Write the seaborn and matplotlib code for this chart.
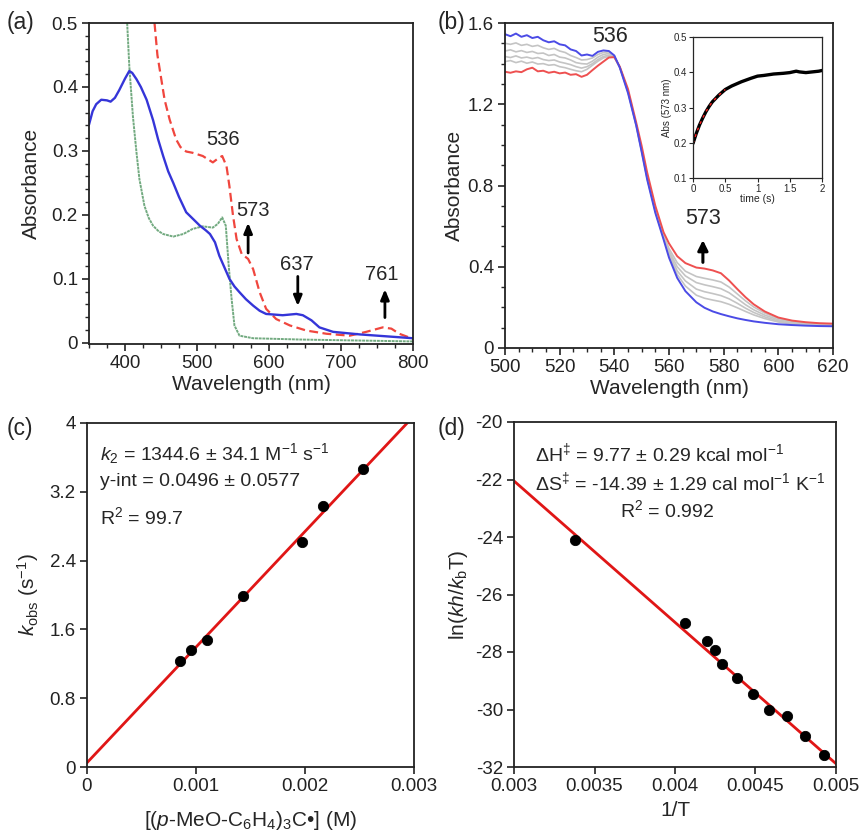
import numpy as np
import pandas as pd
import matplotlib
matplotlib.use("Agg")
import matplotlib.pyplot as plt
from matplotlib.ticker import FuncFormatter, MultipleLocator
import seaborn as sns

sns.set_style("ticks")
plt.rcParams['font.family'] = ['Liberation Sans', 'DejaVu Sans']
plt.rcParams['mathtext.fontset'] = 'custom'
plt.rcParams['mathtext.rm'] = 'Liberation Sans'
plt.rcParams['mathtext.it'] = 'Liberation Sans:italic'
plt.rcParams['mathtext.bf'] = 'Liberation Sans:bold'

# ---------------- Panel (a) data ----------------
wl_blue_a = [350, 355, 360, 367, 375, 380, 386, 392, 400, 406, 410, 416, 422, 430, 439, 446, 453,
             460, 467, 475, 485, 495, 504, 512, 518, 525, 531, 538, 545, 552, 559, 568, 578, 587,
             596, 619, 638, 647, 659, 670, 689, 726, 763, 800]
abs_blue_a = [0.341, 0.362, 0.373, 0.380, 0.379, 0.377, 0.383, 0.395, 0.413, 0.425, 0.422, 0.412,
              0.400, 0.380, 0.348, 0.318, 0.292, 0.268, 0.250, 0.228, 0.204, 0.193, 0.183, 0.176,
              0.170, 0.157, 0.136, 0.118, 0.100, 0.088, 0.079, 0.068, 0.058, 0.050, 0.045, 0.043,
              0.045, 0.043, 0.035, 0.024, 0.017, 0.013, 0.010, 0.007]
wl_red_a = [441, 445, 450, 455, 462, 471, 477, 485, 494, 508, 522, 529, 535, 541, 545, 550, 555,
            562, 571, 578, 587, 596, 610, 629, 652, 680, 712, 735, 758, 770, 781, 800]
abs_red_a = [0.500, 0.450, 0.415, 0.380, 0.349, 0.318, 0.306, 0.299, 0.297, 0.292, 0.282, 0.288,
             0.292, 0.276, 0.245, 0.199, 0.162, 0.139, 0.131, 0.115, 0.079, 0.053, 0.037, 0.027,
             0.019, 0.014, 0.011, 0.017, 0.024, 0.022, 0.014, 0.006]
wl_green_a = [403, 406, 411, 416, 420, 427, 433, 439, 446, 453, 467, 481, 494, 508, 522, 529, 535,
              540, 544, 548, 552, 559, 578, 643, 800]
abs_green_a = [0.500, 0.432, 0.354, 0.297, 0.256, 0.214, 0.195, 0.183, 0.175, 0.170, 0.166, 0.170,
               0.178, 0.182, 0.180, 0.186, 0.196, 0.183, 0.121, 0.069, 0.027, 0.011, 0.007, 0.005,
               0.002]

# ---------------- Panel (b) data ----------------
wl_b = [500, 502, 504, 506, 508, 510, 512, 514, 516, 518, 520, 522, 524, 526, 528, 530, 532, 534,
        536, 538, 540, 542, 545, 548, 550, 552, 555, 558, 560, 563, 566, 570, 573, 576, 579, 582,
        585, 588, 591, 595, 600, 605, 610, 615, 620]
blue_b = [1.545, 1.535, 1.548, 1.532, 1.540, 1.526, 1.532, 1.515, 1.505, 1.510, 1.495, 1.490, 1.470,
          1.462, 1.440, 1.445, 1.438, 1.458, 1.465, 1.462, 1.440, 1.380, 1.255, 1.095, 0.965, 0.830,
          0.665, 0.535, 0.445, 0.345, 0.280, 0.225, 0.198, 0.180, 0.167, 0.156, 0.146, 0.138, 0.131,
          0.124, 0.117, 0.113, 0.110, 0.108, 0.107]
gray1_b = [1.500, 1.495, 1.502, 1.490, 1.495, 1.485, 1.490, 1.478, 1.470, 1.475, 1.462, 1.455, 1.440,
           1.430, 1.418, 1.420, 1.428, 1.445, 1.455, 1.458, 1.438, 1.382, 1.262, 1.100, 0.975, 0.845,
           0.685, 0.555, 0.490, 0.420, 0.378, 0.352, 0.343, 0.335, 0.325, 0.300, 0.266, 0.232, 0.202,
           0.172, 0.145, 0.131, 0.124, 0.120, 0.118]
gray2_b = [1.462, 1.468, 1.458, 1.464, 1.455, 1.460, 1.450, 1.452, 1.440, 1.445, 1.432, 1.428, 1.418,
           1.405, 1.400, 1.398, 1.412, 1.432, 1.445, 1.450, 1.436, 1.383, 1.265, 1.100, 0.972, 0.842,
           0.680, 0.550, 0.478, 0.400, 0.355, 0.322, 0.311, 0.302, 0.292, 0.272, 0.243, 0.213, 0.188,
           0.162, 0.139, 0.127, 0.121, 0.117, 0.115]
gray3_b = [1.435, 1.430, 1.438, 1.428, 1.432, 1.425, 1.430, 1.420, 1.415, 1.418, 1.408, 1.402, 1.395,
           1.385, 1.378, 1.385, 1.400, 1.420, 1.435, 1.442, 1.434, 1.383, 1.262, 1.098, 0.970, 0.838,
           0.675, 0.545, 0.468, 0.380, 0.330, 0.290, 0.277, 0.268, 0.258, 0.242, 0.220, 0.196, 0.175,
           0.153, 0.133, 0.122, 0.117, 0.114, 0.112]
gray4_b = [1.410, 1.415, 1.405, 1.412, 1.402, 1.408, 1.398, 1.400, 1.392, 1.395, 1.385, 1.380, 1.372,
           1.365, 1.360, 1.372, 1.392, 1.412, 1.428, 1.436, 1.430, 1.382, 1.260, 1.096, 0.968, 0.835,
           0.670, 0.540, 0.458, 0.362, 0.305, 0.260, 0.245, 0.236, 0.228, 0.215, 0.198, 0.180, 0.163,
           0.145, 0.128, 0.118, 0.114, 0.111, 0.110]
red_b = [1.360, 1.355, 1.362, 1.358, 1.372, 1.380, 1.362, 1.365, 1.355, 1.360, 1.352, 1.356, 1.345,
         1.348, 1.335, 1.345, 1.368, 1.390, 1.410, 1.430, 1.432, 1.385, 1.275, 1.110, 0.995, 0.865,
         0.700, 0.570, 0.515, 0.452, 0.418, 0.396, 0.391, 0.382, 0.368, 0.332, 0.290, 0.250, 0.215,
         0.180, 0.150, 0.135, 0.127, 0.122, 0.120]

# inset kinetics trace
t_inset = [0, 0.05, 0.1, 0.15, 0.2, 0.25, 0.3, 0.4, 0.5, 0.6, 0.75, 0.9, 1.0, 1.1, 1.25, 1.4, 1.5,
           1.6, 1.65, 1.75, 1.85, 1.95, 2.0]
abs_inset = [0.198, 0.226, 0.250, 0.270, 0.288, 0.303, 0.316, 0.335, 0.351, 0.361, 0.373, 0.383,
             0.389, 0.391, 0.395, 0.397, 0.399, 0.403, 0.401, 0.399, 0.401, 0.403, 0.405]

# ---------------- Panel (c) data ----------------
conc_c = [0.000850, 0.000957, 0.001101, 0.001434, 0.001976, 0.002168, 0.002532]
kobs_c = [1.229, 1.360, 1.476, 1.990, 2.620, 3.030, 3.467]
k2_fit = 1344.6
yint_fit = 0.0496

# ---------------- Panel (d) data ----------------
invT_d = [0.003377, 0.004061, 0.004200, 0.004248, 0.004291, 0.004382, 0.004482, 0.004585,
          0.004693, 0.004807, 0.004927]
lnk_d = [-24.12, -26.98, -27.63, -27.94, -28.43, -28.89, -29.47, -30.03, -30.23, -30.92, -31.59]
slope_d = -4917.0
icpt_d = -7.30

# ---------------- figure ----------------
W, H = 866, 839
fig = plt.figure(figsize=(W / 100, H / 100), dpi=100)

def ax_px(l, t, r, b):
    return fig.add_axes([l / W, 1 - b / H, (r - l) / W, (b - t) / H])

axa = ax_px(89, 23, 413, 344)
axb = ax_px(505, 23, 833, 348)
axc = ax_px(87, 423, 414, 767)
axd = ax_px(514, 422, 836, 767)
axi = ax_px(693, 37, 822, 178)

TICK = 13.5
LAB = 15
gfmt = FuncFormatter(lambda v, p: "%g" % v)

for ax in (axa, axb, axc, axd):
    for s in ax.spines.values():
        s.set_linewidth(1.3)
        s.set_color('#222222')
    ax.tick_params(axis='both', which='major', direction='out', length=5, width=1.2,
                   labelsize=TICK, pad=3, colors='#222222')
    ax.tick_params(axis='both', which='minor', direction='out', length=3, width=1.0)
    ax.xaxis.set_major_formatter(gfmt)
    ax.yaxis.set_major_formatter(gfmt)

# ----- (a)
sns.lineplot(x=wl_green_a, y=abs_green_a, ax=axa, color='#72aa80', lw=1.4,
             linestyle=(0, (1.5, 0.4)), sort=False)
sns.lineplot(x=wl_red_a, y=abs_red_a, ax=axa, color='#f0463e', lw=1.6,
             linestyle=(0, (4, 2)), sort=False)
sns.lineplot(x=wl_blue_a, y=abs_blue_a, ax=axa, color='#3535d8', lw=1.7, sort=False)
axa.set_xlim(350, 800)
axa.set_ylim(-0.002, 0.5)
axa.set_xticks([400, 500, 600, 700, 800])
axa.set_yticks([0, 0.1, 0.2, 0.3, 0.4, 0.5])
axa.xaxis.set_minor_locator(MultipleLocator(25))
axa.yaxis.set_minor_locator(MultipleLocator(0.02))
axa.set_xlabel('Wavelength (nm)', fontsize=LAB, labelpad=2)
axa.set_ylabel('Absorbance', fontsize=LAB, labelpad=8)
arrow_kw = dict(arrowstyle='-|>,head_length=0.6,head_width=0.25', color='k', lw=2)
axa.text(536, 0.318, '536', fontsize=14.5, ha='center', va='center')
axa.text(578, 0.206, '573', fontsize=14.5, ha='center', va='center')
axa.annotate('', xy=(571, 0.192), xytext=(571, 0.136), arrowprops=arrow_kw)
axa.text(639, 0.123, '637', fontsize=14.5, ha='center', va='center')
axa.annotate('', xy=(640, 0.053), xytext=(640, 0.108), arrowprops=arrow_kw)
axa.text(756, 0.106, '761', fontsize=14.5, ha='center', va='center')
axa.annotate('', xy=(761, 0.088), xytext=(761, 0.035), arrowprops=arrow_kw)

# ----- (b)
for g in (gray4_b, gray3_b, gray2_b, gray1_b):
    sns.lineplot(x=wl_b, y=g, ax=axb, color='#c4c4c4', lw=1.2)
sns.lineplot(x=wl_b, y=red_b, ax=axb, color='#ee5050', lw=1.4)
sns.lineplot(x=wl_b, y=blue_b, ax=axb, color='#4b4be6', lw=1.4)
axb.set_xlim(500, 620)
axb.set_ylim(0, 1.6)
axb.set_xticks([500, 520, 540, 560, 580, 600, 620])
axb.set_yticks([0, 0.4, 0.8, 1.2, 1.6])
axb.xaxis.set_minor_locator(MultipleLocator(5))
axb.yaxis.set_minor_locator(MultipleLocator(0.1))
axb.set_xlabel('Wavelength (nm)', fontsize=LAB, labelpad=2)
axb.set_ylabel('Absorbance', fontsize=LAB, labelpad=3)
axb.text(538.3, 1.533, '536', fontsize=15.5, ha='center', va='center')
axb.text(572.4, 0.638, '573', fontsize=15.5, ha='center', va='center')
axb.annotate('', xy=(572.4, 0.545), xytext=(572.4, 0.408),
             arrowprops=dict(arrowstyle='-|>,head_length=0.6,head_width=0.3', color='k', lw=2.2))

# ----- inset
sns.lineplot(x=t_inset, y=abs_inset, ax=axi, color='k', lw=2.4)
sns.lineplot(x=t_inset[:9], y=abs_inset[:9], ax=axi, color='#ff2020', lw=1.0,
             linestyle=(0, (2, 3)))
axi.set_xlim(0, 2)
axi.set_ylim(0.1, 0.5)
axi.set_xticks([0, 0.5, 1, 1.5, 2])
axi.set_yticks([0.1, 0.2, 0.3, 0.4, 0.5])
axi.xaxis.set_major_formatter(gfmt)
axi.yaxis.set_major_formatter(gfmt)
axi.tick_params(axis='both', direction='out', length=3, width=0.8, labelsize=7, pad=1.5)
for s in axi.spines.values():
    s.set_linewidth(0.9)
axi.set_xlabel('time (s)', fontsize=7.5, labelpad=0)
axi.set_ylabel('Abs (573 nm)', fontsize=7, labelpad=1)

# ----- (c)
xfit_c = np.array([0.0, 0.003])
sns.lineplot(x=xfit_c, y=k2_fit * xfit_c + yint_fit, ax=axc, color='#e01616', lw=2.0)
sns.scatterplot(x=conc_c, y=kobs_c, ax=axc, color='k', s=55, edgecolor='k', zorder=5)
axc.set_xlim(0, 0.003)
axc.set_ylim(0, 4)
axc.set_xticks([0, 0.001, 0.002, 0.003])
axc.set_yticks([0, 0.8, 1.6, 2.4, 3.2, 4])
axc.set_xlabel(r'[($p$-MeO-C$_6$H$_4$)$_3$C•] (M)', fontsize=LAB, labelpad=10)
axc.set_ylabel(r'$k_{\rm obs}$ (s$^{-1}$)', fontsize=LAB, labelpad=6)
axc.text(0.000116, 3.65, r'$k_2$ = 1344.6 ± 34.1 M$^{-1}$ s$^{-1}$', fontsize=14, va='center')
axc.text(0.000116, 3.32, 'y-int = 0.0496 ± 0.0577', fontsize=14, va='center')
axc.text(0.000116, 2.90, r'R$^2$ = 99.7', fontsize=14, va='center')

# ----- (d)
xfit_d = np.array([0.003, 0.005])
sns.lineplot(x=xfit_d, y=slope_d * xfit_d + icpt_d, ax=axd, color='#e01616', lw=2.0)
sns.scatterplot(x=invT_d, y=lnk_d, ax=axd, color='k', s=55, edgecolor='k', zorder=5)
axd.set_xlim(0.003, 0.005)
axd.set_ylim(-32, -20)
axd.set_xticks([0.003, 0.0035, 0.004, 0.0045, 0.005])
axd.set_yticks([-32, -30, -28, -26, -24, -22, -20])
axd.set_xlabel('1/T', fontsize=LAB, labelpad=4)
axd.set_ylabel(r'ln($kh$/$k_{\rm b}$T)', fontsize=LAB, labelpad=4)
axd.text(0.003128, -21.1, r'ΔH$^{‡}$ = 9.77 ± 0.29 kcal mol$^{-1}$', fontsize=14, va='center')
axd.text(0.003128, -22.09, r'ΔS$^{‡}$ = -14.39 ± 1.29 cal mol$^{-1}$ K$^{-1}$', fontsize=14,
         va='center')
axd.text(0.00395, -23.05, r'R$^2$ = 0.992', fontsize=14, va='center', ha='center')

# panel labels
for lbl, x, y in (('(a)', 20, 22), ('(b)', 451, 22), ('(c)', 20, 428), ('(d)', 451, 428)):
    fig.text(x / W, 1 - y / H, lbl, fontsize=16.5, ha='center', va='center')

fig.savefig('out.png', dpi=100, facecolor='white')
